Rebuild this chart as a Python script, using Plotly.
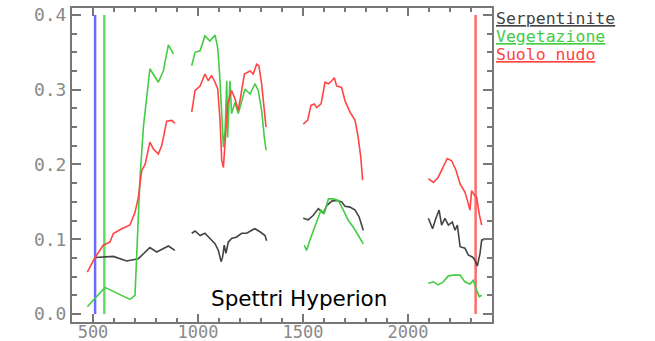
import plotly.graph_objects as go

# Serpentinite (black)
serp_x = [510, 597, 660, 716, 771, 803, 859, 890, None,
          970, 986, 1010, 1033, 1057, 1081, 1097, 1110, 1117, 1125, 1133, 1144, 1160, 1184, 1208, 1232, 1256, 1271, 1295, 1319, 1327, None,
          1501, 1525, 1549, 1573, 1597, 1613, 1637, 1660, 1684, 1700, 1724, 1748, 1767, 1780, 1787, None,
          2097, 2117, 2133, 2148, 2160, 2176, 2192, 2211, 2224, 2235, 2248, 2271, 2287, 2308, 2319, 2330, 2343, 2351, 2367]
serp_y = [0.0756, 0.077, 0.071, 0.074, 0.089, 0.083, 0.091, 0.085, None,
          0.108, 0.111, 0.105, 0.108, 0.101, 0.094, 0.085, 0.070, 0.076, 0.092, 0.081, 0.096, 0.101, 0.103, 0.108, 0.108, 0.112, 0.114, 0.110, 0.105, 0.098, None,
          0.128, 0.126, 0.132, 0.141, 0.135, 0.145, 0.151, 0.152, 0.150, 0.144, 0.143, 0.139, 0.130, 0.116, 0.112, None,
          0.128, 0.114, 0.128, 0.139, 0.119, 0.128, 0.119, 0.123, 0.112, 0.119, 0.090, 0.088, 0.079, 0.076, 0.072, 0.064, 0.081, 0.099, 0.100]

# Vegetazione (green)
veg_x = [473, 557, 676, 700, 724, 740, 756, 771, 811, 835, 859, 883, None,
         970, 986, 1010, 1033, 1057, 1081, 1094, 1102, 1113, 1121, 1129, 1137, 1141, 1152, 1160, 1176, 1192, 1208, 1224, 1248, 1271, 1287, 1303, 1316, 1324, None,
         1506, 1517, 1533, 1557, 1586, 1601, 1621, 1644, 1668, 1692, 1716, 1740, 1763, 1787, None,
         2097, 2121, 2144, 2168, 2192, 2216, 2248, 2271, 2295, 2311, 2327, 2339, 2351]
veg_y = [0.0098, 0.0356, 0.0196, 0.025, 0.183, 0.25, 0.29, 0.328, 0.31, 0.325, 0.36, 0.348, None,
         0.332, 0.35, 0.352, 0.372, 0.365, 0.373, 0.356, 0.325, 0.268, 0.223, 0.245, 0.312, 0.236, 0.312, 0.268, 0.283, 0.268, 0.285, 0.301, 0.294, 0.308, 0.299, 0.272, 0.236, 0.219, None,
         0.092, 0.085, 0.099, 0.116, 0.139, 0.134, 0.154, 0.154, 0.152, 0.139, 0.125, 0.116, 0.105, 0.094, None,
         0.041, 0.043, 0.039, 0.043, 0.051, 0.052, 0.052, 0.043, 0.040, 0.045, 0.032, 0.023, 0.025]

# Suolo nudo (red)
soil_x = [473, 510, 549, 581, 597, 637, 676, 700, 716, 732, 748, 771, 787, 811, 827, 851, 875, 890, None,
          970, 986, 1010, 1033, 1049, 1065, 1081, 1094, 1105, 1113, 1121, 1129, 1141, 1160, 1176, 1192, 1208, 1221, 1248, 1263, 1279, 1290, 1303, 1316, 1324, None,
          1501, 1522, 1538, 1554, 1565, 1586, 1605, 1621, 1637, 1649, 1660, 1684, 1700, 1724, 1748, 1763, 1775, 1784, None,
          2097, 2121, 2144, 2168, 2187, 2208, 2229, 2248, 2271, 2283, 2295, 2303, 2316, 2327, 2339, 2351]
soil_y = [0.056, 0.0756, 0.092, 0.0964, 0.1076, 0.114, 0.119, 0.136, 0.156, 0.192, 0.200, 0.230, 0.221, 0.214, 0.225, 0.258, 0.259, 0.255, None,
          0.270, 0.299, 0.305, 0.321, 0.312, 0.319, 0.310, 0.301, 0.259, 0.205, 0.196, 0.232, 0.281, 0.299, 0.288, 0.272, 0.299, 0.321, 0.325, 0.321, 0.334, 0.332, 0.308, 0.276, 0.250, None,
          0.254, 0.259, 0.279, 0.281, 0.276, 0.281, 0.310, 0.308, 0.312, 0.316, 0.305, 0.303, 0.285, 0.270, 0.259, 0.236, 0.210, 0.179, None,
          0.181, 0.176, 0.183, 0.196, 0.208, 0.205, 0.192, 0.174, 0.163, 0.152, 0.139, 0.165, 0.159, 0.156, 0.134, 0.119]

# Band markers (vertical lines)
marker_x = [510, 554, 2322]
marker_colors = ["#6a6aff", "#5fdf5f", "#ff6a6a"]
marker_range = [0.0, 0.4]

legend_labels = ["Serpentinite", "Vegetazione", "Suolo nudo"]
legend_colors = ["#444444", "#44cc44", "#ff4444"]

x_ticks = [500, 1000, 1500, 2000]
y_ticks = [0.0, 0.1, 0.2, 0.3, 0.4]
y_tick_text = ["0.0", "0.1", "0.2", "0.3", "0.4"]
x_range = [400, 2400]
y_range = [-0.0107, 0.4093]

fig = go.Figure()

for mx, mc in zip(marker_x, marker_colors):
    fig.add_trace(go.Scatter(x=[mx, mx], y=marker_range, mode="lines",
                             line=dict(color=mc, width=2.5), hoverinfo="skip"))

for xs, ys, col in [(serp_x, serp_y, legend_colors[0]),
                    (veg_x, veg_y, legend_colors[1]),
                    (soil_x, soil_y, legend_colors[2])]:
    fig.add_trace(go.Scatter(x=xs, y=ys, mode="lines", connectgaps=False,
                             line=dict(color=col, width=1.6)))

# invisible trace to carry the mirrored (top/right) tick axes
fig.add_trace(go.Scatter(x=[x_range[0]], y=[y_range[0]], xaxis="x2", yaxis="y2",
                         mode="markers", marker=dict(opacity=0), hoverinfo="skip"))

axis_font = dict(family="DejaVu Sans Mono", size=18, color="#8a8a8a")
x_axis_font = dict(family="DejaVu Sans Mono", size=17, color="#8a8a8a")
tick_col = "#777777"

fig.update_layout(
    width=655, height=341,
    margin=dict(l=72, r=163, t=8, b=19),
    paper_bgcolor="white", plot_bgcolor="white",
    showlegend=False,
    xaxis=dict(range=x_range, tickvals=x_ticks, ticks="inside", ticklen=8,
               tickwidth=1.5, tickcolor=tick_col, showline=True, linecolor=tick_col,
               linewidth=2, showgrid=False, zeroline=False, automargin=False,
               tickfont=x_axis_font, ticklabelstandoff=-6,
               minor=dict(dtick=100, tick0=400, ticks="inside", ticklen=4,
                          tickcolor=tick_col, tickwidth=1.5, showgrid=False)),
    yaxis=dict(range=y_range, tickvals=y_ticks, ticktext=y_tick_text,
               ticks="inside", ticklen=9, tickwidth=1.5, tickcolor=tick_col,
               showline=True, linecolor=tick_col, linewidth=2, automargin=False,
               showgrid=False, zeroline=False, tickfont=axis_font,
               minor=dict(dtick=0.025, tick0=0, ticks="inside", ticklen=5,
                          tickcolor=tick_col, tickwidth=1.5, showgrid=False)),
    xaxis2=dict(range=x_range, overlaying="x", side="top", anchor="y",
                tickvals=x_ticks, ticks="inside", ticklen=8, tickwidth=1.5,
                tickcolor=tick_col, showline=True, linecolor=tick_col, linewidth=2,
                showticklabels=False, showgrid=False, zeroline=False, automargin=False,
                minor=dict(dtick=100, tick0=400, ticks="inside", ticklen=4,
                           tickcolor=tick_col, tickwidth=1.5, showgrid=False)),
    yaxis2=dict(range=y_range, overlaying="y", side="right", anchor="x",
                tickvals=y_ticks, ticks="inside", ticklen=9, tickwidth=1.5,
                tickcolor=tick_col, showline=True, linecolor=tick_col, linewidth=2,
                showticklabels=False, showgrid=False, zeroline=False, automargin=False,
                minor=dict(dtick=0.025, tick0=0, ticks="inside", ticklen=5,
                           tickcolor=tick_col, tickwidth=1.5, showgrid=False)),
)

legend_y = [0.966, 0.909, 0.852]
for lab, col, ly in zip(legend_labels, legend_colors, legend_y):
    fig.add_annotation(text="<u>" + lab + "</u>", xref="paper", yref="paper",
                       x=1.005, y=ly, xanchor="left", yanchor="middle",
                       showarrow=False,
                       font=dict(family="DejaVu Sans Mono", size=16.5, color=col))

fig.add_annotation(text="Spettri Hyperion", x=1481, y=0.021, xref="x", yref="y",
                   showarrow=False, xanchor="center", yanchor="middle",
                   font=dict(family="DejaVu Sans", size=21.5, color="black"))

fig.write_html("out.html")
